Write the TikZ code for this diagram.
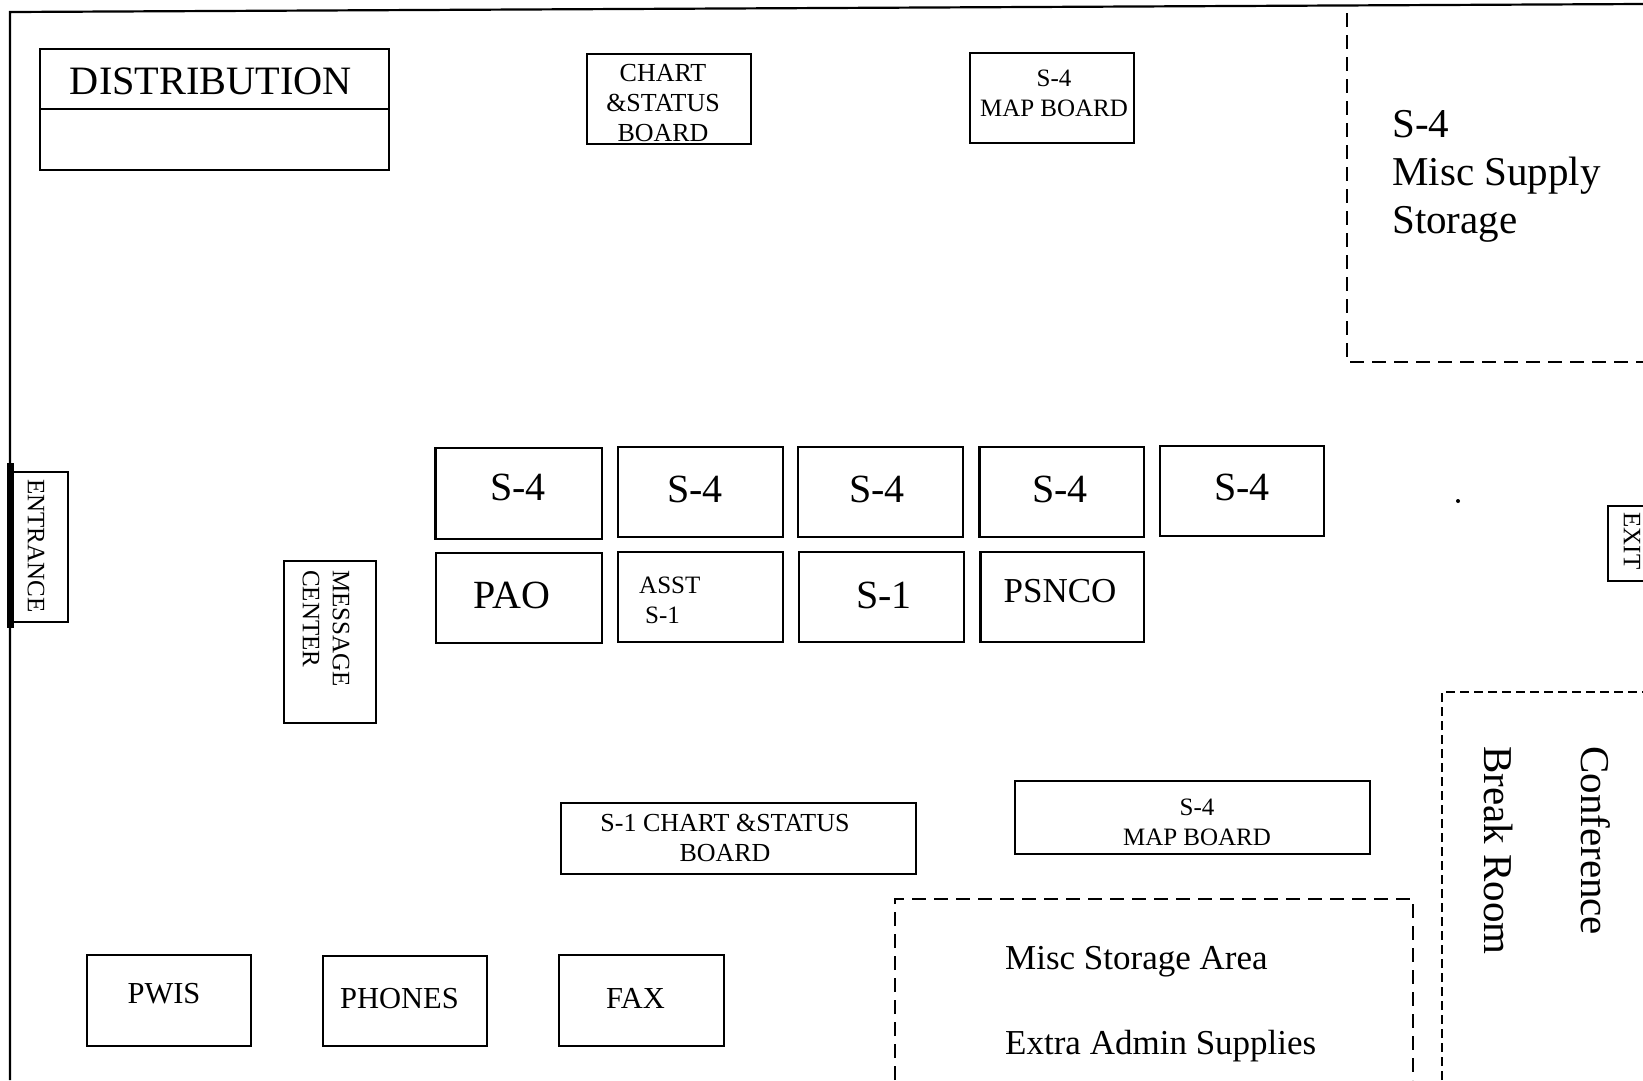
\documentclass[tikz,border=0pt]{standalone}
\usepackage{fontspec}
\setmainfont{Liberation Serif}
\tikzset{
	wall/.style={line width=2.2pt, color=black},
	board/.style={line width=2.1pt, color=black},
	storage/.style={line width=2.4pt, dash pattern=on 14pt off 8pt},
	storagetight/.style={line width=2.4pt, dash pattern=on 9pt off 5pt},
	hugetxt/.style={inner sep=0pt, font=\fontsize{40}{48}\selectfont},
	roomtxt/.style={inner sep=0pt, font=\fontsize{41}{48}\selectfont},
	largetxt/.style={inner sep=0pt, font=\fontsize{35}{40}\selectfont},
	midtxt/.style={inner sep=0pt, font=\fontsize{30.5}{36}\selectfont},
	smalltxt/.style={inner sep=0pt, align=center, font=\fontsize{25}{30}\selectfont},
	charttxt/.style={inner sep=0pt, align=center, font=\fontsize{26}{30}\selectfont},
}
\begin{document}
\begin{tikzpicture}[x=1pt, y=-1pt]
		\clip (0, 0) rectangle (1643, 1080);
		\fill[white] (0, 0) rectangle (1643, 1080);
		
		%%%%% WALLS %%%%%
		\draw[wall] (10, 1080) -- (10, 12) -- (1643, 4);
		\draw[line width=7pt] (10, 463) -- (10, 628);
		\fill (1458, 501) circle (2);
		
		%%%%% STORAGE %%%%%
		\draw[storage] (1347, 13) -- (1347, 362) -- (1643, 362);
		\draw[storagetight] (1442, 1080) -- (1442, 692) -- (1643, 692);
		\draw[storage] (895, 1080) -- (895, 899) -- (1413, 899) -- (1413, 1080);
		\node[roomtxt, align=left, anchor=west] (miscsupply) at (1392, 176) {S-4\\Misc Supply\\Storage};
		\node[roomtxt, rotate=-90, anchor=west] (breakroom) at (1499, 746) {Break Room};
		\node[roomtxt, rotate=-90, anchor=west] (conference) at (1596, 746) {Conference};
		\node[largetxt, anchor=west] (miscarea) at (1005, 962) {Misc Storage Area};
		\node[largetxt, anchor=west] (adminsupplies) at (1005, 1046) {Extra Admin Supplies};
		
		%%%%% BOARDS %%%%%
		\draw[board] (40, 49) rectangle (389, 170);
		\draw[board] (40, 109) -- (389, 109);
		\node[hugetxt, font=\fontsize{40.3}{48}\selectfont] (distribution) at (211, 81) {DISTRIBUTION};
		
		\draw[board] (587, 54) rectangle (751, 144);
		\node[charttxt] (chartboard) at (663, 103) {CHART\\\&STATUS\\BOARD};
		\draw[board] (970, 53) rectangle (1134, 143);
		\node[smalltxt] (mapboard) at (1054, 93) {S-4\\MAP BOARD};
		\draw[board] (561, 803) rectangle (916, 874);
		\node[charttxt] (chartboardlow) at (725, 838) {S-1 CHART \&STATUS\\BOARD};
		\draw[board] (1015, 781) rectangle (1370, 854);
		\node[smalltxt] (mapboardlow) at (1197, 822) {S-4\\MAP BOARD};
		
		%%%%% DESKS %%%%%
		\draw[board] (435.5, 448) rectangle (602, 539);
		\node[hugetxt] (sfoura) at (518, 487) {S-4};
		\draw[board] (618, 447) rectangle (783, 537);
		\node[hugetxt] (sfourb) at (695, 489) {S-4};
		\draw[board] (798, 447) rectangle (963, 537);
		\node[hugetxt] (sfourc) at (877, 489) {S-4};
		\draw[board] (979.5, 447) rectangle (1144, 537);
		\node[hugetxt] (sfourd) at (1060, 489) {S-4};
		\draw[board] (1160, 446) rectangle (1324, 536);
		\node[hugetxt] (sfoure) at (1242, 487) {S-4};
		
		\draw[board] (436, 553) rectangle (602, 643);
		\node[hugetxt] (pao) at (512, 595) {PAO};
		\draw[board] (618, 552) rectangle (783, 642);
		\node[smalltxt, align=left, anchor=west] (asst) at (639, 600) {ASST\\\hspace{6pt}S-1};
		\draw[board] (799, 552) rectangle (964, 642);
		\node[hugetxt] (sone) at (884, 595) {S-1};
		\draw[board] (980.5, 552) rectangle (1144, 642);
		\node[inner sep=0pt, font=\fontsize{35}{42}\selectfont] (psnco) at (1060, 591) {PSNCO};
		
		\draw[board] (284, 561) rectangle (376, 723);
		\node[smalltxt, align=left, rotate=-90, anchor=west] (message) at (326, 570) {MESSAGE\\CENTER};
		
		\draw[board] (10, 472) -- (68, 472) -- (68, 622) -- (10, 622);
		\node[smalltxt, rotate=-90] (entrance) at (36, 546) {ENTRANCE};
		\draw[board] (1643, 506) -- (1608, 506) -- (1608, 581) -- (1643, 581);
		\node[smalltxt, rotate=-90] (exit) at (1632, 541) {EXIT};
		
		\draw[board] (87, 955) rectangle (251, 1046);
		\node[midtxt] (pwis) at (164, 994) {PWIS};
		\draw[board] (323, 956) rectangle (487, 1046);
		\node[midtxt] (phones) at (399.5, 999) {PHONES};
		\draw[board] (559, 955) rectangle (724, 1046);
		\node[midtxt] (fax) at (635.5, 998) {FAX};
	\end{tikzpicture}
\end{document}
